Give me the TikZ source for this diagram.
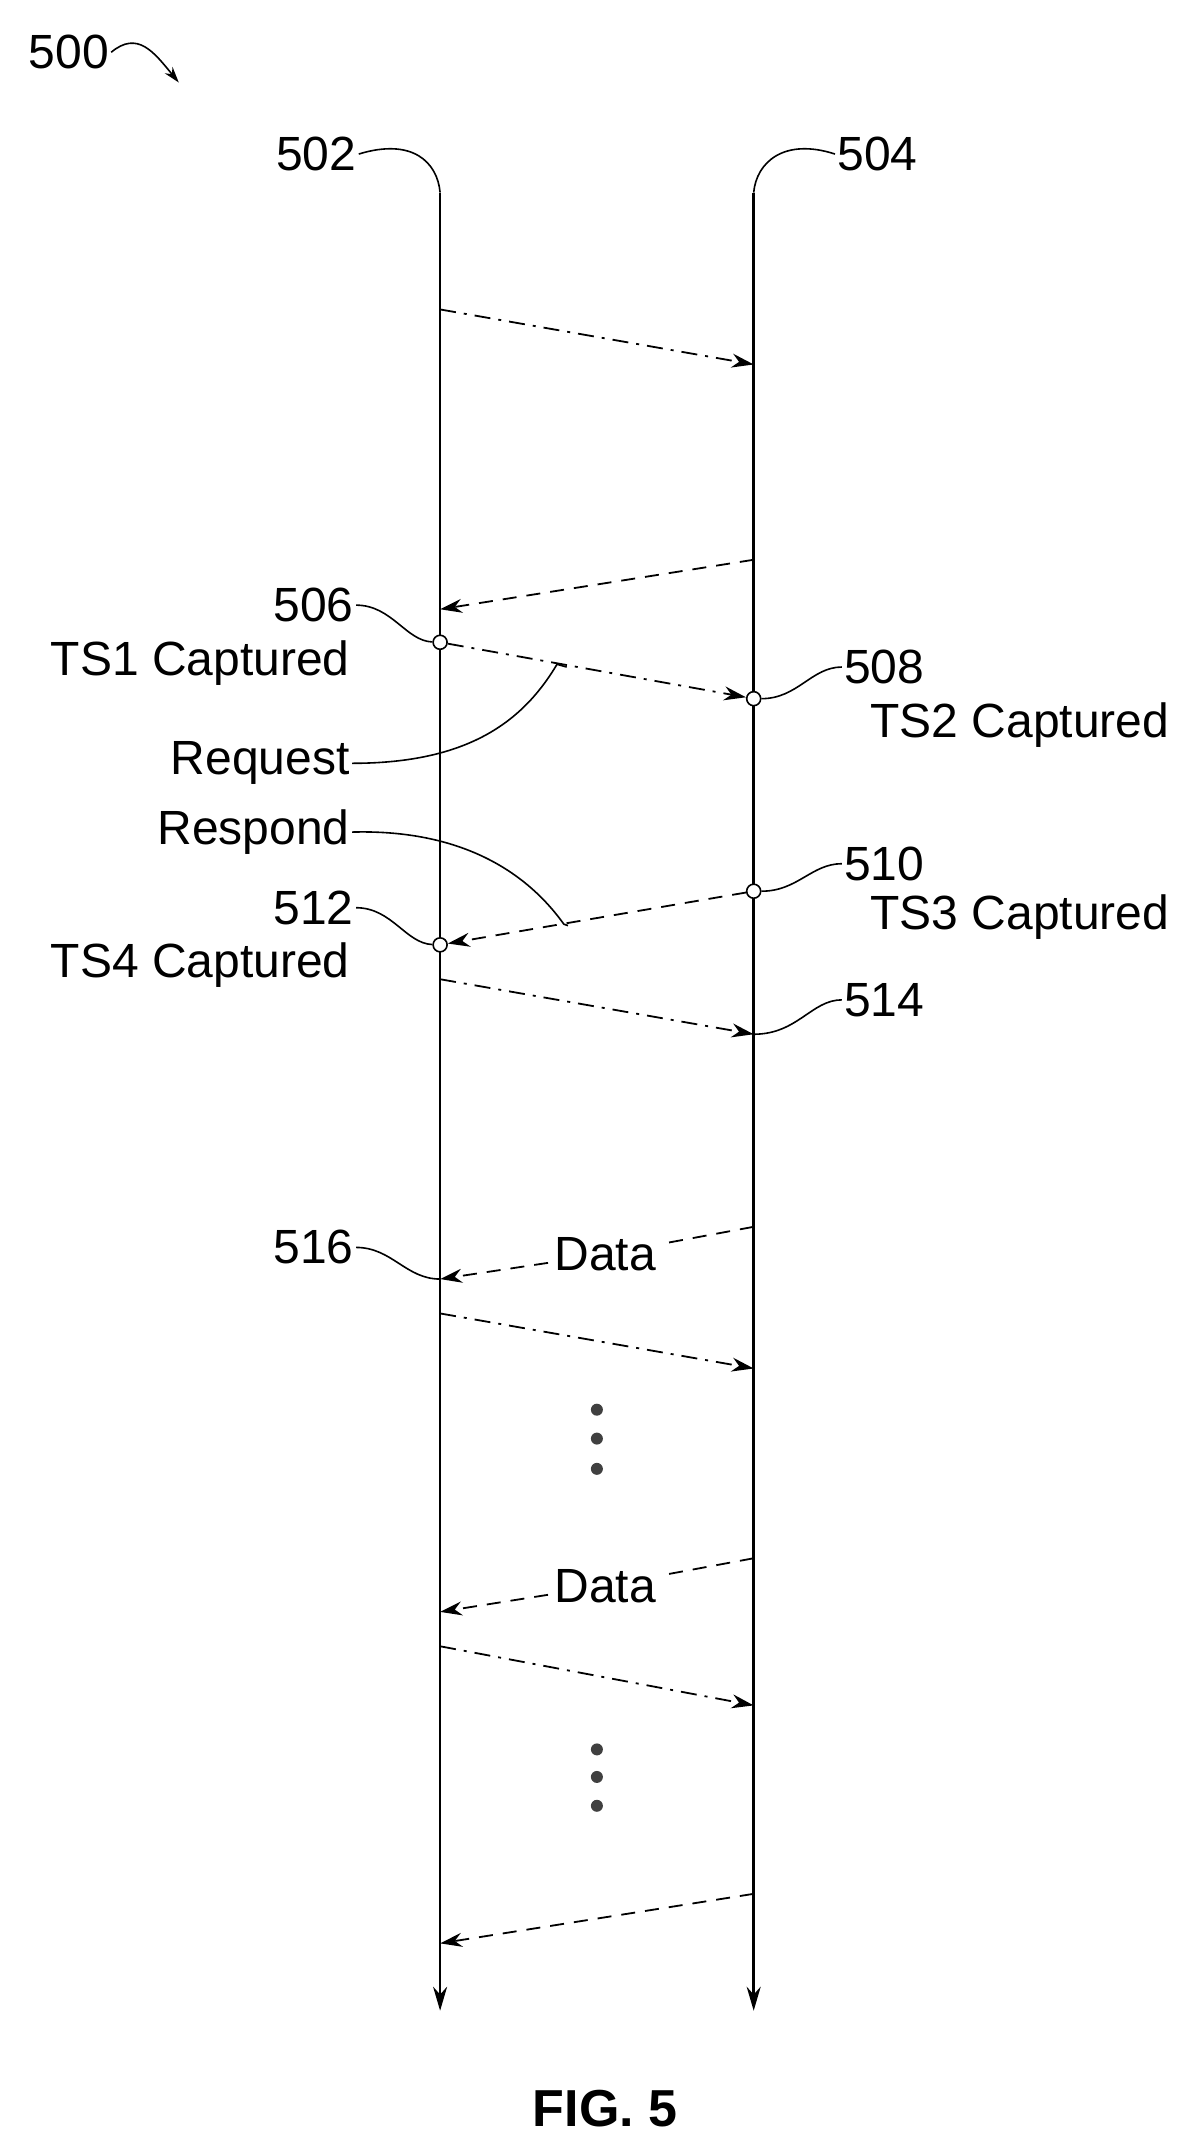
\documentclass[tikz,border=0pt]{standalone}
\usepackage{fontspec}
\setmainfont{Liberation Sans}
\usetikzlibrary{arrows.meta}
\begin{document}
\begin{tikzpicture}[x=0.6875pt,y=-0.6875pt,
  lbl/.style={font=\fontsize{24}{26}\selectfont,inner sep=1pt},
  life/.style={line width=1.2pt,-{Stealth[length=12pt,width=7pt]}},
  req/.style={line width=0.9pt,dash pattern=on 8pt off 4pt on 1.5pt off 4pt,-{Stealth[length=11pt,width=7pt]}},
  rsp/.style={line width=0.9pt,dash pattern=on 7pt off 5pt,-{Stealth[length=11pt,width=7pt]}},
  lead/.style={line width=0.8pt},
  ts/.style={circle,draw,fill=white,line width=0.8pt,inner sep=0pt,minimum size=7pt},
  dot/.style={circle,fill=black!75,inner sep=0pt,minimum size=6pt}]
\useasboundingbox (0,0) rectangle (863,1564);
% lifelines
\coordinate (Ltop) at (320,140); \coordinate (Lbot) at (320,1462);
\coordinate (Rtop) at (548,140); \coordinate (Rbot) at (548,1462);
\draw[life] (Ltop) -- (Lbot);
\draw[life] (Rtop) -- (Rbot);
% labels top
\node[lbl] (n500) at (50,38) {500};
\coordinate (a500) at (130,60);
\draw[lead,-{Stealth[length=8pt,width=5pt]}] (n500.east) .. controls (100,22) and (112,38) .. (a500);
\node[lbl] (n502) at (230,112) {502};
\draw[lead] (n502.east) .. controls (300,100) and (318,118) .. (Ltop);
\node[lbl] (n504) at (638,112) {504};
\draw[lead] (Rtop) .. controls (550,118) and (570,100) .. (n504.west);
% messages
\coordinate (m1a) at (320,225); \coordinate (m1b) at (548,265);
\draw[req] (m1a) -- (m1b);
\coordinate (m2a) at (548,407); \coordinate (m2b) at (320,443);
\draw[rsp] (m2a) -- (m2b);
\node[ts] (c506) at (320,467) {};
\node[ts] (c508) at (548,508) {};
\draw[req] (c506) -- (c508);
\node[ts] (c510) at (548,648) {};
\node[ts] (c512) at (320,687) {};
\draw[rsp] (c510) -- (c512);
\coordinate (m5a) at (320,712); \coordinate (m5b) at (548,752);
\draw[req] (m5a) -- (m5b);
\coordinate (m6a) at (548,892); \coordinate (m6b) at (320,930);
\node[lbl,fill=white,inner sep=3pt] (d1) at (440,912) {Data};
\draw[rsp,-] (m6a) -- (d1);
\draw[rsp] (d1) -- (m6b);
\coordinate (m7a) at (320,955); \coordinate (m7b) at (548,995);
\draw[req] (m7a) -- (m7b);
\node[dot] (v1) at (434,1025) {}; \node[dot] (v2) at (434,1046) {}; \node[dot] (v3) at (434,1068) {};
\coordinate (m9a) at (548,1133); \coordinate (m9b) at (320,1172);
\node[lbl,fill=white,inner sep=3pt] (d2) at (440,1153) {Data};
\draw[rsp,-] (m9a) -- (d2);
\draw[rsp] (d2) -- (m9b);
\coordinate (m10a) at (320,1197); \coordinate (m10b) at (548,1240);
\draw[req] (m10a) -- (m10b);
\node[dot] (w1) at (434,1272) {}; \node[dot] (w2) at (434,1292) {}; \node[dot] (w3) at (434,1313) {};
\coordinate (m12a) at (548,1377); \coordinate (m12b) at (320,1413);
\draw[rsp] (m12a) -- (m12b);
% side labels
\node[lbl] (n506) at (228,440) {506};
\draw[lead] (n506.east) .. controls (285,440) and (295,466) .. (c506);
\node[lbl,anchor=east] (t1) at (256,482) {TS1 Captured};
\node[lbl] (n508) at (643,485) {508};
\draw[lead] (c508) .. controls (580,508) and (590,485) .. (n508.west);
\node[lbl,anchor=east] (t2) at (852,527) {TS2 Captured};
\node[lbl,anchor=east] (rq) at (256,555) {Request};
\coordinate (rqe) at (405,483);
\draw[lead] (rq.east) .. controls (340,555) and (380,525) .. (rqe) -- (412,485);
\node[lbl,anchor=east] (rs) at (256,605) {Respond};
\coordinate (rse) at (410,672);
\draw[lead] (rs.east) .. controls (330,603) and (380,630) .. (rse) -- (413,673);
\node[lbl] (n510) at (643,628) {510};
\draw[lead] (c510) .. controls (580,648) and (590,628) .. (n510.west);
\node[lbl,anchor=east] (t3) at (852,667) {TS3 Captured};
\node[lbl] (n512) at (228,660) {512};
\draw[lead] (n512.east) .. controls (285,660) and (295,686) .. (c512);
\node[lbl,anchor=east] (t4) at (256,702) {TS4 Captured};
\node[lbl] (n514) at (643,727) {514};
\draw[lead] (m5b) .. controls (580,752) and (590,727) .. (n514.west);
\node[lbl] (n516) at (228,907) {516};
\draw[lead] (n516.east) .. controls (285,907) and (295,930) .. (m6b);
\node[font=\bfseries\fontsize{26}{28}\selectfont] (fig) at (440,1533) {FIG. 5};
\end{tikzpicture}
\end{document}
